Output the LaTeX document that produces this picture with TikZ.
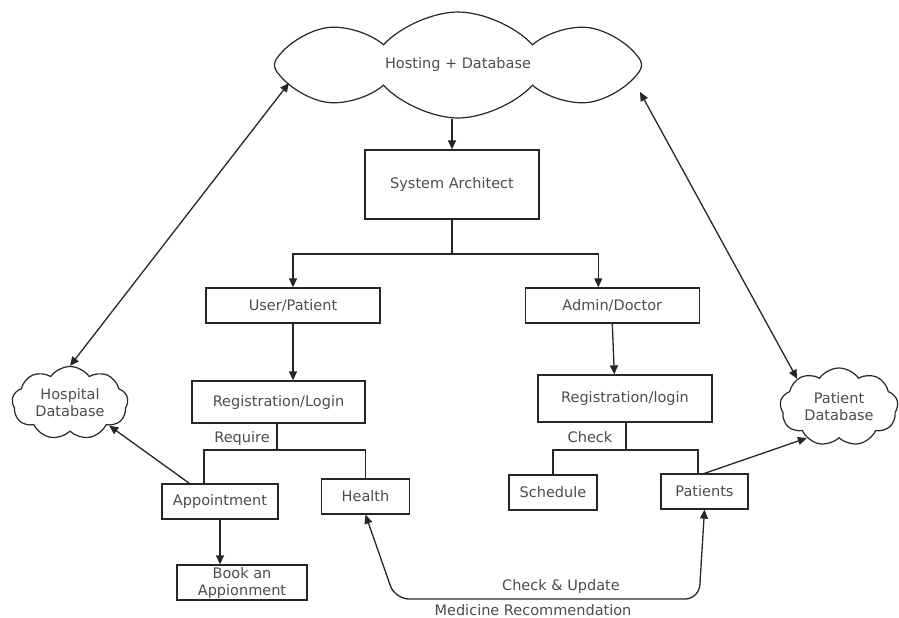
\documentclass[tikz,border=0pt]{standalone}
\usepackage{fontspec}
\setmainfont{DejaVu Sans}
\usetikzlibrary{shapes.symbols, arrows.meta, positioning}

\begin{document}
\begin{tikzpicture}[
        x=1pt, y=-1pt,
        font=\fontsize{14.5}{17}\selectfont,
        box/.style={rectangle, draw=black!85, line width=1.3pt, text=black!70, align=center, inner sep=1pt},
        db/.style={cloud, draw=black!85, line width=1.2pt, text=black!70, align=center, cloud ignores aspect, inner sep=0pt},
        lbl/.style={text=black!70, inner sep=1pt},
        line/.style={-, line width=1.3pt, draw=black!85},
        arr/.style={line, -{Triangle[length=9pt, width=8pt]}},
        dbl/.style={line, {Triangle[length=9pt, width=8pt]}-{Triangle[length=9pt, width=8pt]}}
    ]
        \useasboundingbox (0,0) rectangle (899,618);

        % Clouds
        \node[db, cloud puffs=8, cloud puff arc=95, minimum width=367pt, minimum height=106pt] (host) at (458,65) {Hosting + Database};
        \node[db, cloud puffs=9, cloud puff arc=110, minimum width=116pt, minimum height=73pt] (hosp) at (70,403) {Hospital\\Database};
        \node[db, cloud puffs=9, cloud puff arc=110, minimum width=118pt, minimum height=78pt] (pdb) at (839,407) {Patient\\Database};

        % Main branch
        \node[box, minimum width=174pt, minimum height=69pt] (sys) at (452,184.5) {System Architect};
        \node[box, minimum width=174pt, minimum height=35pt] (user) at (293,305.5) {User/Patient};
        \node[box, minimum width=174pt, minimum height=35pt, right=144pt of user] (admin) {Admin/Doctor};
        \node[box, minimum width=173pt, minimum height=42pt] (reg1) at (278.5,402) {Registration/Login};
        \node[box, minimum width=174pt, minimum height=47pt] (reg2) at (625,398.5) {Registration/login};

        % Patient side
        \node[box, minimum width=116pt, minimum height=35pt] (appt) at (220,501.5) {Appointment};
        \node[box, minimum width=88pt, minimum height=35pt] (health) at (365.5,496.5) {Health};
        \node[box, minimum width=130pt, minimum height=35pt] (book) at (242,582.5) {Book an\\Appionment};

        % Doctor side
        \node[box, minimum width=88pt, minimum height=35pt] (sched) at (553,492.5) {Schedule};
        \node[box, minimum width=87pt, minimum height=35pt] (patients) at (704.5,491.5) {Patients};

        \node[lbl] (reqlbl) at (242,438) {Require};
        \node[lbl] (chklbl) at (590,437) {Check};
        \node[lbl] (upd) at (561,586) {Check \& Update};
        \node[lbl] (med) at (533,610) {Medicine Recommendation};

        \coordinate (split) at (452,254);
        \coordinate (req) at (277,450);
        \coordinate (chk) at (626,450);
        \coordinate (bendL) at (395,599);
        \coordinate (bendR) at (699,599);
        \coordinate (hostL) at (289,83);
        \coordinate (hostR) at (640,92);

        \draw[arr] (sys.north |- host.south) -- (sys);
        \draw[line] (sys) -- (split);
        \draw[arr] (split) -| (user);
        \draw[arr] (split) -| ([xshift=-14pt]admin.north);
        \draw[arr] (user.south) -- (user.south |- reg1.north);
        \draw[arr] (admin.south) -- ([xshift=2pt]admin.south |- reg2.north);

        \draw[line] (reg1.south -| req) -- (req);
        \draw[line] (req) -| ([xshift=-16pt]appt.north);
        \draw[line] (req) -| (health.north);
        \draw[line] (reg2.south -| chk) -- (chk);
        \draw[line] (chk) -| (sched.north);
        \draw[line] (chk) -| ([xshift=-6.5pt]patients.north);

        \draw[arr] (appt.south) -- (appt.south |- book.north);
        \draw[arr] ([xshift=28pt]appt.north west) -- (hosp.330);
        \draw[arr] (patients.north) -- (pdb.224);

        % Database links
        \draw[dbl] (hosp.north) -- (hostL);
        \draw[dbl] (hostR) -- (pdb.146);
        \draw[dbl, rounded corners=14pt] (health.south) -- (bendL) -- (bendR) -- (patients.south);

    \end{tikzpicture}
\end{document}
